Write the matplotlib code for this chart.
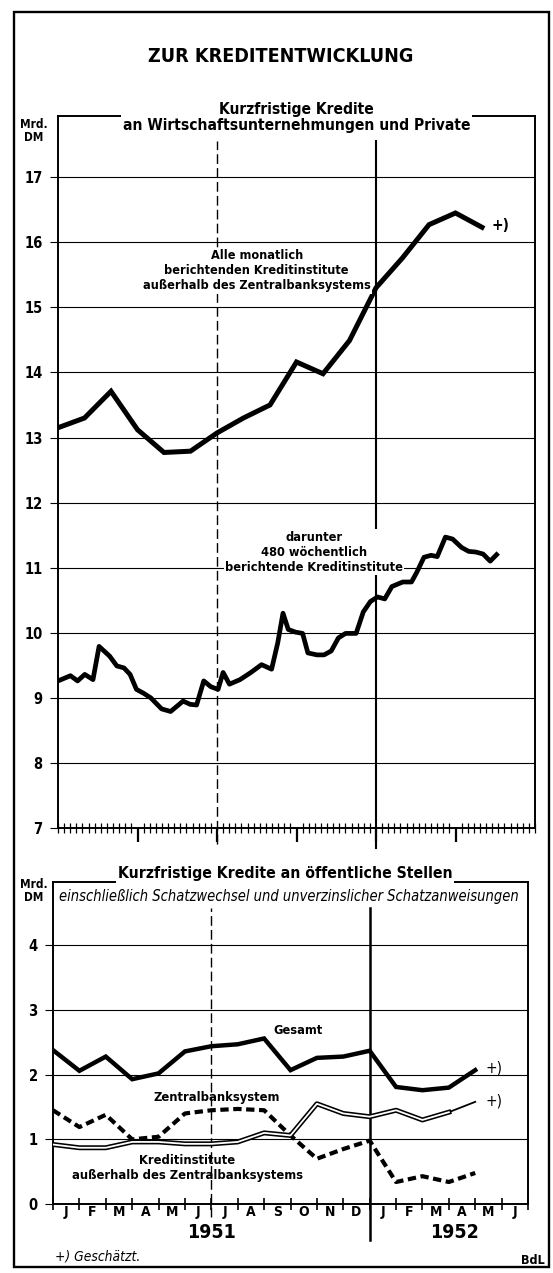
import numpy as np
import matplotlib
matplotlib.use("Agg")
import matplotlib.pyplot as plt
from matplotlib import font_manager as fm
from matplotlib.patches import Rectangle

W, H = 553, 1273

# ---- data (months counted from end of Dec 1950) ----
month_labels = ["J", "F", "M", "A", "M", "J", "J", "A", "S", "O", "N", "D",
                "J", "F", "M", "A", "M", "J"]
year_labels = ["1951", "1952"]

# all monthly reporting credit institutions outside the central bank system
alle_months = list(range(17))
alle_values = [13.15, 13.30, 13.71, 13.12, 12.77, 12.79, 13.07, 13.30, 13.50,
               14.16, 13.98, 14.49, 15.30, 15.76, 16.27, 16.45, 16.23]

# of which 480 weekly reporting institutions
woch_months = [0.0, 0.47, 0.74, 1.01, 1.32, 1.55, 1.95, 2.22, 2.49, 2.72, 2.96,
               3.23, 3.50, 3.91, 4.25, 4.72, 4.99, 5.23, 5.50, 5.77, 6.04, 6.23,
               6.47, 6.87, 7.28, 7.68, 8.06, 8.29, 8.49, 8.69, 8.96, 9.23, 9.43,
               9.77, 10.04, 10.31, 10.58, 10.85, 11.25, 11.52, 11.79, 12.06,
               12.33, 12.60, 13.01, 13.34, 13.54, 13.81, 14.08, 14.31, 14.62,
               14.89, 15.23, 15.50, 15.77, 16.04, 16.31, 16.55]
woch_values = [9.26, 9.34, 9.26, 9.36, 9.28, 9.79, 9.64, 9.49, 9.46, 9.36, 9.13,
               9.07, 9.00, 8.83, 8.79, 8.95, 8.90, 8.89, 9.26, 9.17, 9.13, 9.39,
               9.21, 9.28, 9.39, 9.51, 9.44, 9.84, 10.30, 10.05, 10.01, 9.99, 9.69,
               9.66, 9.66, 9.72, 9.92, 9.99, 9.99, 10.32, 10.48, 10.55,
               10.52, 10.71, 10.78, 10.78, 10.93, 11.16, 11.19, 11.17, 11.47,
               11.44, 11.31, 11.25, 11.24, 11.21, 11.10, 11.20]

# credits to public authorities
oeff_months = list(range(17))
gesamt = [2.38, 2.06, 2.28, 1.93, 2.02, 2.36, 2.44, 2.47, 2.56, 2.07, 2.26,
          2.28, 2.37, 1.81, 1.76, 1.80, 2.07]
zentral = [1.45, 1.19, 1.38, 1.00, 1.04, 1.40, 1.45, 1.47, 1.45, 1.06, 0.70,
           0.85, 0.98, 0.34, 0.43, 0.34, 0.48]
kredit = [0.92, 0.87, 0.87, 0.96, 0.96, 0.93, 0.93, 0.96, 1.10, 1.06, 1.55,
          1.40, 1.35, 1.45, 1.30, 1.42, 1.58]


# prefer a narrow sans (the original lettering is condensed)
def pick_font():
    for fam, stretch in [('Liberation Sans Narrow', 'normal'),
                         ('DejaVu Sans', 'condensed'),
                         ('Noto Sans', 'condensed'),
                         ('Open Sans Condensed', 'normal'),
                         ('Roboto Condensed', 'normal')]:
        try:
            path = fm.findfont(fm.FontProperties(family=fam, stretch=stretch),
                               fallback_to_default=False)
        except Exception:
            continue
        low = path.lower()
        if 'narrow' in low or 'cond' in low:
            return fam, stretch
    return 'Liberation Sans', 'normal'


fam, stretch = pick_font()
plt.rcParams['font.family'] = [fam, 'DejaVu Sans']
plt.rcParams['font.stretch'] = stretch


def px_axes(left, top, right, bottom):
    return [left / W, 1 - bottom / H, (right - left) / W, (bottom - top) / H]


def ftext(x, y, s, **kw):
    return fig.text(x / W, 1 - y / H, s, **kw)


fig = plt.figure(figsize=(W / 100, H / 100), dpi=100)

# outer frame
fig.patches.append(Rectangle((14 / W, 1 - 1267 / H), 535 / W, 1255 / H,
                             fill=False, lw=1.7, ec='black',
                             transform=fig.transFigure))

fit = []  # (text, target width in px)

t = ftext(281, 57, "ZUR KREDITENTWICKLUNG", ha='center', va='center',
          fontsize=15, fontweight='bold')
fit.append((t, 266))

# ---------------- upper panel ----------------
ax1 = fig.add_axes(px_axes(58, 116, 535, 828))
ax1.set_xlim(0, 18)
ax1.set_ylim(7, 17.94)
for s in ax1.spines.values():
    s.set_linewidth(1.4)
ax1.set_yticks(range(7, 18))
ax1.set_yticklabels([str(v) for v in range(7, 18)], fontweight='bold', fontsize=10.5)
for v in range(8, 18):
    ax1.axhline(v, color='black', lw=0.8, zorder=1)
ax1.tick_params(axis='y', length=6, width=0.8, pad=5)
ax1.set_xticks([3, 6, 9, 12, 15])
ax1.set_xticks(np.arange(0, 18.01, 12 / 52), minor=True)
ax1.tick_params(axis='x', which='major', direction='out', length=10, width=1.6,
                labelbottom=False)
ax1.tick_params(axis='x', which='minor', direction='inout', length=7, width=0.9)

ax1.plot([6, 6], [6.75, 17.55], color='black', lw=1.0, dashes=(7, 3), clip_on=False)
ax1.plot([12, 12], [6.7, 17.55], color='black', lw=1.5, clip_on=False)

ax1.plot(alle_months, alle_values, color='black', lw=3.6, solid_joinstyle='miter',
         zorder=4)
ax1.plot(woch_months, woch_values, color='black', lw=3.4, solid_joinstyle='round',
         zorder=4)

t = ax1.text(9, 17.92, "Kurzfristige Kredite\nan Wirtschaftsunternehmungen und Private",
             ha='center', va='center', fontsize=11.5, fontweight='bold',
             linespacing=1.1, bbox=dict(fc='white', ec='none', pad=1), zorder=10)
fit.append((t, 349))
ftext(34, 131, "Mrd.\nDM", ha='center', va='center', fontsize=8.5,
      fontweight='bold', linespacing=0.95)
t = ax1.text(7.5, 15.56, "Alle monatlich\nberichtenden Kreditinstitute\naußerhalb des Zentralbanksystems",
             ha='center', va='center', fontsize=8.5, fontweight='bold',
             linespacing=1.2, bbox=dict(fc='white', ec='none', pad=1), zorder=5)
fit.append((t, 226))
t = ax1.text(9.66, 11.24, "darunter\n480 wöchentlich\nberichtende Kreditinstitute",
             ha='center', va='center', fontsize=8.5, fontweight='bold',
             linespacing=1.2, bbox=dict(fc='white', ec='none', pad=1), zorder=5)
fit.append((t, 178))
ax1.text(16.35, 16.25, "+)", ha='left', va='center', fontsize=11, fontweight='bold')

# ---------------- lower panel ----------------
ax2 = fig.add_axes(px_axes(53, 882, 528, 1204))
ax2.set_xlim(0, 18)
ax2.set_ylim(0, 4.98)
for s in ax2.spines.values():
    s.set_linewidth(1.4)
ax2.set_yticks(range(0, 5))
ax2.set_yticklabels([str(v) for v in range(0, 5)], fontweight='bold', fontsize=10.5)
for v in range(1, 5):
    ax2.axhline(v, color='black', lw=0.8, zorder=1)
ax2.tick_params(axis='y', length=6, width=0.8, pad=5)
ax2.set_xticks(range(0, 19))
ax2.set_xticklabels([])
ax2.tick_params(axis='x', which='major', direction='inout', length=9, width=1.2)
ax2.set_xticks(np.arange(18) + 0.5, minor=True)
ax2.set_xticklabels(month_labels, minor=True, fontweight='bold', fontsize=10)
ax2.tick_params(axis='x', which='minor', length=0, pad=1)

ax2.plot([6, 6], [-0.2, 4.58], color='black', lw=1.0, dashes=(7, 3), clip_on=False)
ax2.plot([12, 12], [-0.55, 4.58], color='black', lw=1.8, clip_on=False)

ax2.plot(oeff_months, gesamt, color='black', lw=3.2, solid_joinstyle='miter', zorder=4)
ax2.plot(oeff_months, zentral, color='black', lw=3.0, dashes=(2.0, 1.1), zorder=4)
ax2.plot(oeff_months[:16], kredit[:16], color='black', lw=3.6, zorder=5)
ax2.plot(oeff_months[:16], kredit[:16], color='white', lw=1.3, zorder=6)
ax2.plot(oeff_months[15:], kredit[15:], color='black', lw=1.3, zorder=5)

t = ax2.text(8.8, 5.11, "Kurzfristige Kredite an öffentliche Stellen", ha='center',
             va='center', fontsize=11.5, fontweight='bold',
             bbox=dict(fc='white', ec='none', pad=1), zorder=10)
fit.append((t, 337))
t = ax2.text(8.93, 4.76, "einschließlich Schatzwechsel und unverzinslicher Schatzanweisungen",
             ha='center', va='center', fontsize=9.5, style='italic')
fit.append((t, 460))
ftext(34, 891, "Mrd.\nDM", ha='center', va='center', fontsize=8.5,
      fontweight='bold', linespacing=0.95)
t = ax2.text(9.3, 2.68, "Gesamt", ha='center', va='center', fontsize=8.5,
             fontweight='bold')
fit.append((t, 49))
t = ax2.text(6.2, 1.64, "Zentralbanksystem", ha='center', va='center', fontsize=8.5,
             fontweight='bold')
fit.append((t, 127))
t = ax2.text(5.08, 0.55, "Kreditinstitute\naußerhalb des Zentralbanksystems",
             ha='center', va='center', fontsize=8.5, fontweight='bold',
             linespacing=1.2)
fit.append((t, 231))
ax2.text(16.4, 2.1, "+)", ha='left', va='center', fontsize=11)
ax2.text(16.4, 1.6, "+)", ha='left', va='center', fontsize=11)
ax2.text(6, -0.44, year_labels[0], ha='center', va='center', fontsize=14,
         fontweight='bold')
ax2.text(15.2, -0.44, year_labels[1], ha='center', va='center', fontsize=14,
         fontweight='bold')

t = ftext(55, 1257, "+) Geschätzt.", ha='left', va='center', fontsize=9.5,
          style='italic')
fit.append((t, 85))
ftext(545, 1261, "BdL", ha='right', va='center', fontsize=9, fontweight='bold')

# scale the long labels so their widths match the original lettering
fig.canvas.draw()
renderer = fig.canvas.get_renderer()
for txt, target in fit:
    wpx = txt.get_window_extent(renderer).width
    txt.set_fontsize(txt.get_fontsize() * target / wpx)

fig.savefig("out.png", dpi=100)
